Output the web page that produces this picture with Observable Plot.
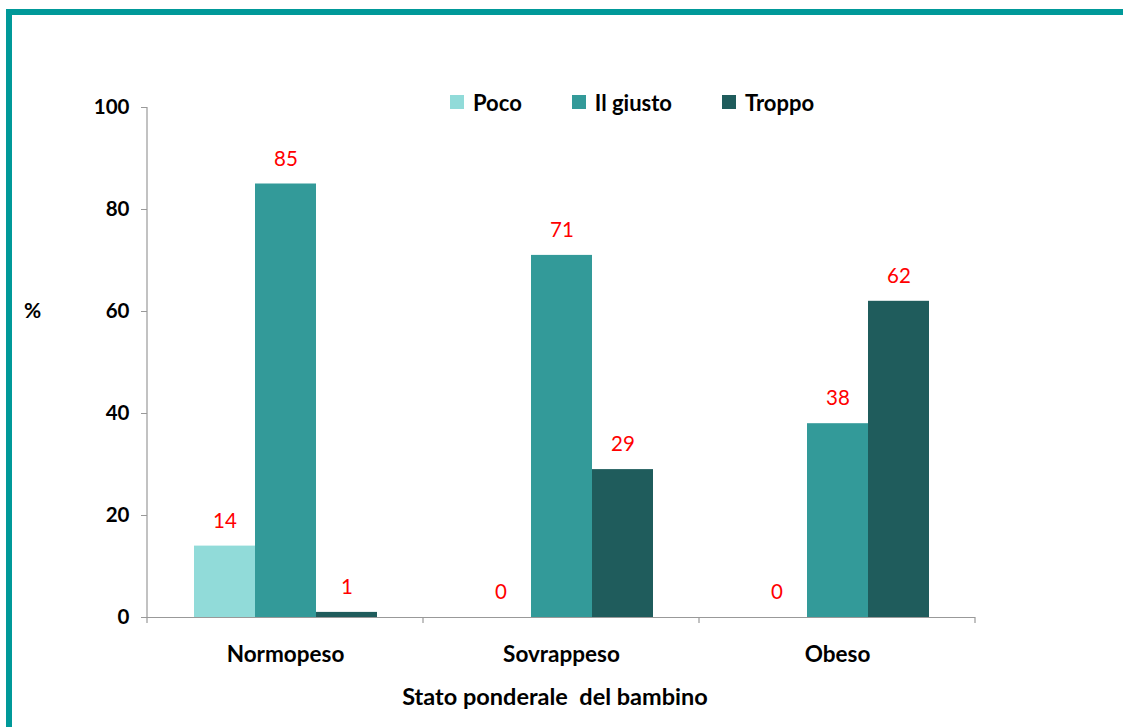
<!DOCTYPE html>
<html><head><meta charset="utf-8">
<script src="https://cdn.jsdelivr.net/npm/d3@7"></script>
<script src="https://cdn.jsdelivr.net/npm/@observablehq/plot@0.6"></script>
<style>
body{margin:0;background:#fff;}
#wrap{position:relative;width:1123px;height:727px;overflow:hidden;font-family:Lato,"Open Sans",sans-serif;background:#fff;}
#border{position:absolute;left:6px;top:9px;width:1300px;height:900px;border-top:6px solid #009999;border-left:6px solid #009999;box-sizing:border-box;}
#chart{position:absolute;left:0;top:0;}
#legend{position:absolute;left:450px;top:90px;display:flex;gap:50px;align-items:center;font-weight:bold;font-size:22px;color:#000;}
#legend .item{display:flex;align-items:center;gap:9px;height:24px;}
#legend .sw{width:14px;height:14px;display:inline-block;}
#ylab{position:absolute;left:24px;top:297px;font-weight:bold;font-size:21px;}
#xlab{position:absolute;left:140px;width:830px;top:682px;text-align:center;font-weight:bold;font-size:23.5px;white-space:pre;}
</style></head>
<body>
<div id="wrap">
  <div id="border"></div>
  <div id="chart"></div>
  <div id="legend"></div>
  <div id="ylab">%</div>
  <div id="xlab">Stato ponderale  del bambino</div>
</div>
<script>
const categories = ["Normopeso", "Sovrappeso", "Obeso"];
const series = ["Poco", "Il giusto", "Troppo"];
const poco = [14, 0, 0];
const giusto = [85, 71, 38];
const troppo = [1, 29, 62];
const colors = ["#91dbd9", "#339a99", "#1f5c5c"];
const yTicks = [0, 20, 40, 60, 80, 100];

const seriesValues = [poco, giusto, troppo];
const data = [];
categories.forEach((c, i) => series.forEach((s, j) => data.push({cat: c, series: s, value: seriesValues[j][i]})));

const chart = Plot.plot({
  width: 1123, height: 727,
  marginLeft: 146, marginRight: 147, marginTop: 107, marginBottom: 110,
  style: {fontFamily: "Lato, 'Open Sans', sans-serif", background: "transparent", overflow: "visible"},
  fx: {domain: categories, padding: 0, label: null},
  x: {domain: series, paddingInner: 0, paddingOuter: 0.76, axis: null},
  y: {domain: [0, 100], label: null},
  color: {domain: series, range: colors},
  marks: [
    Plot.barY(data, {fx: "cat", x: "series", y: "value", fill: "series"}),
    Plot.text(data, {fx: "cat", x: "series", y: "value", text: d => String(d.value), dy: -25, fill: "#ff0000", fontSize: 20.5}),
    Plot.ruleY([0], {stroke: "#999", strokeWidth: 1.2}),
    Plot.axisY({ticks: yTicks, tickSize: 6, tickPadding: 12, stroke: "#999", fill: "#000", fontSize: 20.5, fontWeight: "bold", label: null}),
    Plot.axisFx({anchor: "bottom", tickSize: 0, tickPadding: 29, fill: "#000", fontSize: 22.5, fontWeight: "bold", label: null})
  ]
});
document.getElementById("chart").appendChild(chart);

// y axis line and category boundary ticks from the Plot scales
const fx = chart.scale("fx"), y = chart.scale("y");
const g = d3.select(chart).append("g").attr("stroke", "#999").attr("stroke-width", 1.2);
const x0 = fx.apply(categories[0]);
g.append("line").attr("x1", x0).attr("x2", x0).attr("y1", y.apply(100)).attr("y2", y.apply(0));
const bounds = categories.map(c => fx.apply(c)).concat([fx.apply(categories[categories.length - 1]) + fx.bandwidth]);
bounds.forEach(b => g.append("line").attr("x1", b).attr("x2", b).attr("y1", y.apply(0)).attr("y2", y.apply(0) + 6));

// legend
const lg = document.getElementById("legend");
series.forEach((s, i) => {
  const it = document.createElement("div"); it.className = "item";
  const sw = document.createElement("span"); sw.className = "sw"; sw.style.background = colors[i];
  const t = document.createElement("span"); t.textContent = s;
  it.appendChild(sw); it.appendChild(t); lg.appendChild(it);
});
</script>
</body></html>
